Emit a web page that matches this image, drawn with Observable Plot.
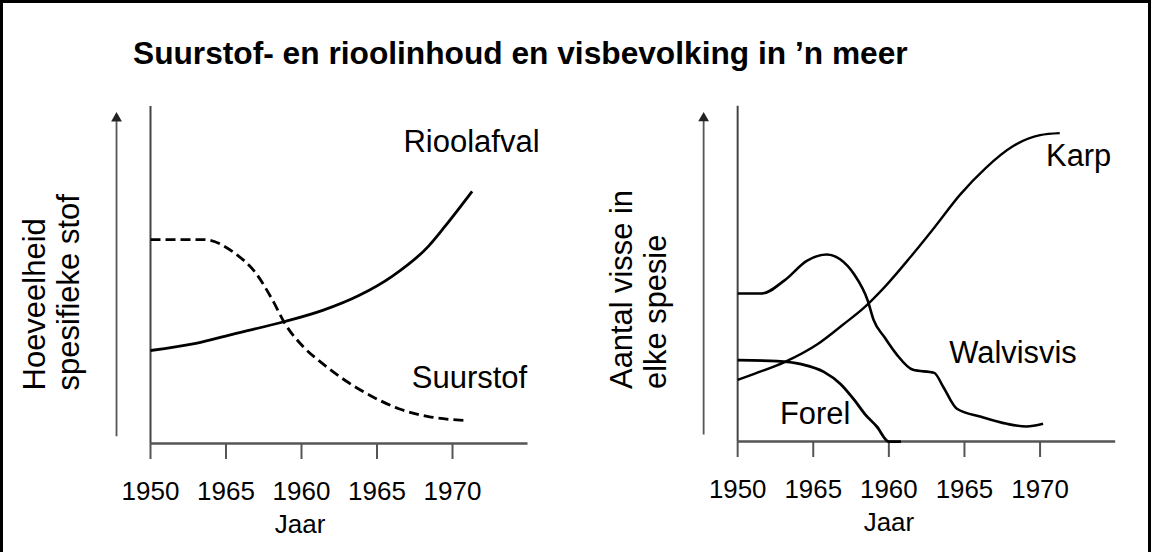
<!DOCTYPE html>
<html>
<head>
<meta charset="utf-8">
<script src="https://cdn.jsdelivr.net/npm/d3@7"></script>
<script src="https://cdn.jsdelivr.net/npm/@observablehq/plot@0.6"></script>
<style>
  html, body { margin: 0; padding: 0; background: #fff; }
  #page { position: relative; width: 1151px; height: 552px; box-sizing: border-box;
          border-top: 3px solid #000; border-left: 3px solid #000; border-right: 3px solid #000;
          font-family: "Liberation Sans", Arial, sans-serif; overflow: hidden; }
  #title { position: absolute; left: 130px; top: 35px; font-size: 31.7px; font-weight: bold;
           line-height: 1; white-space: nowrap; color: #000; }
  #left { position: absolute; left: -3px; top: 77px; }
  #right { position: absolute; left: 572px; top: 77px; }
</style>
</head>
<body>
<div id="page">
  <div id="title">Suurstof- en rioolinhoud en visbevolking in ’n meer</div>
  <div id="left"></div>
  <div id="right"></div>
</div>
<script>
// ---- Data ----
const tickYears = [1950, 1955, 1960, 1965, 1970];
const tickLabels = ["1950", "1965", "1960", "1965", "1970"];
const xLabel = "Jaar";
const leftYLabel = "Hoeveelheid\nspesifieke stof";
const rightYLabel = "Aantal visse in\nelke spesie";

// Left panel: Rioolafval (solid) and Suurstof (dashed)
const rioolYear  = [1950, 1953.0, 1955.6, 1958.9, 1961.4, 1963.8, 1966.0, 1968.4, 1969.5, 1971.3];
const rioolValue = [27.6, 29.7, 32.6, 36.2, 39.5, 43.9, 49.6, 58.5, 64.4, 74.8];
const suurYear   = [1950, 1953.5, 1955.6, 1957.0, 1958.1, 1958.9, 1960.1, 1961.4, 1962.9, 1964.7, 1966.4, 1968.4, 1970.9];
const suurValue  = [60.5, 60.5, 56.4, 50.4, 42.4, 35.6, 28.8, 23.7, 18.7, 13.9, 10.4, 8.0, 6.8];

// Right panel: Karp, Walvisvis, Forel
const karpYear   = [1950, 1951.1, 1953.1, 1955.3, 1957.0, 1958.4, 1959.7, 1961.4, 1963.0, 1964.7, 1966.4, 1968.2, 1970.0, 1971.3];
const karpValue  = [18.4, 20.2, 23.7, 29.1, 35.0, 40.1, 46.0, 54.9, 63.8, 73.6, 81.6, 88.1, 91.4, 92.0];
const walvisYear = [1950, 1951.6, 1953.1, 1954.6, 1955.9, 1956.8, 1957.7, 1958.6, 1959.0, 1959.7, 1960.5, 1961.6, 1963.0, 1963.6, 1964.5, 1966.1, 1967.8, 1969.1, 1970.2];
const walvisValue= [44.2, 44.2, 48.1, 54.0, 55.8, 54.3, 49.9, 42.1, 36.2, 31.2, 26.1, 21.4, 20.5, 16.3, 9.8, 7.4, 5.3, 4.5, 5.3];
const forelYear  = [1950, 1952.6, 1954.2, 1955.7, 1956.8, 1957.7, 1958.4, 1959.2, 1960.0, 1960.8];
const forelValue = [24.3, 24.0, 23.1, 20.8, 17.2, 12.5, 8.3, 4.5, 0, 0];

// Series labels: [text, year, value]
const leftLabels  = [["Rioolafval", 1966.75, 89.3], ["Suurstof", 1967.3, 19.5]];
const rightLabels = [["Karp", 1970.4, 85.2], ["Walvisvis", 1964.0, 26.4], ["Forel", 1952.8, 8.3]];

// ---- Helpers ----
const zip = (xs, ys) => xs.map((x, i) => ({x, y: ys[i]}));
const FONT = "'Liberation Sans', Arial, sans-serif";

function panel({width, marginLeft, marginRight, series, labels, yLabel, jaarYear}) {
  const marks = [
    // y axis line
    Plot.ruleX([1950], {stroke: "#444", strokeWidth: 2}),
    // x axis line
    Plot.ruleY([0], {stroke: "#555", strokeWidth: 2.5}),
    Plot.axisX({ticks: tickYears, tickFormat: d => tickLabels[tickYears.indexOf(d)],
                tickSize: 16, tickPadding: 22, stroke: "#555", strokeWidth: 2,
                fill: "#000", fontSize: 26, label: null}),
    // arrow beside the y axis
    Plot.ruleX([1947.75], {y1: 2, y2: 95.5, stroke: "#555", strokeWidth: 1.8}),
    Plot.dot([0], {x: () => 1947.75, y: () => 96.5, symbol: "triangle", r: 4, fill: "#222", stroke: null}),
    // y-label
    Plot.text([yLabel], {frameAnchor: "left", text: d => d, rotate: -90, textAnchor: "start",
                lineAnchor: "top", lineHeight: 1.1, fontSize: 31, fill: "#000",
                dx: -130, dy: 115.5}),
    // x-label
    Plot.text([xLabel], {x: () => jaarYear, frameAnchor: "bottom", text: d => d,
                lineAnchor: "top", dy: 71, fontSize: 26, fill: "#000"})
  ];
  for (const s of series) {
    marks.push(Plot.line(s.data, {x: "x", y: "y", curve: "monotone-x", stroke: "#000",
      strokeWidth: s.width, strokeDasharray: s.dash || null, strokeLinecap: "butt"}));
  }
  marks.push(Plot.text(labels, {x: d => d[1], y: d => d[2], text: d => d[0],
    textAnchor: "start", lineAnchor: "middle", fontSize: 31, fill: "#000"}));
  return Plot.plot({
    width, height: 475,
    marginTop: 26, marginBottom: 112, marginLeft, marginRight,
    x: {domain: [1950, 1975]},
    y: {domain: [0, 100], axis: null},
    style: {fontFamily: FONT, fontSize: "26px", color: "#000", background: "transparent", overflow: "visible"},
    marks
  });
}

document.getElementById("left").append(panel({
  width: 575, marginLeft: 150, marginRight: 47.5, jaarYear: 1959.9, yLabel: leftYLabel,
  series: [
    {data: zip(rioolYear, rioolValue), width: 2.8},
    {data: zip(suurYear, suurValue), width: 2.8, dash: "10,5"}
  ],
  labels: leftLabels
}));

document.getElementById("right").append(panel({
  width: 576, marginLeft: 163, marginRight: 33, jaarYear: 1960.0, yLabel: rightYLabel,
  series: [
    {data: zip(karpYear, karpValue), width: 2.4},
    {data: zip(walvisYear, walvisValue), width: 2.6},
    {data: zip(forelYear, forelValue), width: 2.8}
  ],
  labels: rightLabels
}));
</script>
</body>
</html>
